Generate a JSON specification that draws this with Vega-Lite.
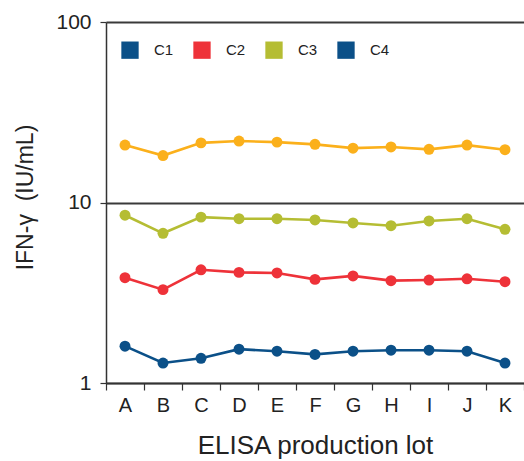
{
  "$schema": "https://vega.github.io/schema/vega-lite/v6.json",
  "width": 418,
  "height": 361,
  "autosize": "none",
  "padding": {"left": 106, "top": 22, "right": 0, "bottom": 78},
  "background": "white",
  "config": {
    "view": {"stroke": null},
    "font": "Liberation Sans",
    "axis": {"labelFont": "Liberation Sans", "titleFont": "Liberation Sans", "labelColor": "#222", "titleColor": "#222", "titleFontWeight": "normal", "domainColor": "#333", "tickColor": "#333", "domainWidth": 1.5, "tickWidth": 1.2}
  },
  "data": {
    "values": [
      {"lot": "A", "series": "C1", "value": 1.60}, {"lot": "B", "series": "C1", "value": 1.29}, {"lot": "C", "series": "C1", "value": 1.37}, {"lot": "D", "series": "C1", "value": 1.54}, {"lot": "E", "series": "C1", "value": 1.50}, {"lot": "F", "series": "C1", "value": 1.44}, {"lot": "G", "series": "C1", "value": 1.50}, {"lot": "H", "series": "C1", "value": 1.52}, {"lot": "I", "series": "C1", "value": 1.52}, {"lot": "J", "series": "C1", "value": 1.50}, {"lot": "K", "series": "C1", "value": 1.29},
      {"lot": "A", "series": "C2", "value": 3.83}, {"lot": "B", "series": "C2", "value": 3.29}, {"lot": "C", "series": "C2", "value": 4.24}, {"lot": "D", "series": "C2", "value": 4.10}, {"lot": "E", "series": "C2", "value": 4.07}, {"lot": "F", "series": "C2", "value": 3.75}, {"lot": "G", "series": "C2", "value": 3.92}, {"lot": "H", "series": "C2", "value": 3.69}, {"lot": "I", "series": "C2", "value": 3.72}, {"lot": "J", "series": "C2", "value": 3.78}, {"lot": "K", "series": "C2", "value": 3.64},
      {"lot": "A", "series": "C3", "value": 8.5}, {"lot": "B", "series": "C3", "value": 6.75}, {"lot": "C", "series": "C3", "value": 8.3}, {"lot": "D", "series": "C3", "value": 8.13}, {"lot": "E", "series": "C3", "value": 8.13}, {"lot": "F", "series": "C3", "value": 8.0}, {"lot": "G", "series": "C3", "value": 7.7}, {"lot": "H", "series": "C3", "value": 7.44}, {"lot": "I", "series": "C3", "value": 7.9}, {"lot": "J", "series": "C3", "value": 8.13}, {"lot": "K", "series": "C3", "value": 7.1},
      {"lot": "A", "series": "C4", "value": 20.8}, {"lot": "B", "series": "C4", "value": 18.2}, {"lot": "C", "series": "C4", "value": 21.4}, {"lot": "D", "series": "C4", "value": 21.9}, {"lot": "E", "series": "C4", "value": 21.6}, {"lot": "F", "series": "C4", "value": 21.0}, {"lot": "G", "series": "C4", "value": 20.0}, {"lot": "H", "series": "C4", "value": 20.3}, {"lot": "I", "series": "C4", "value": 19.7}, {"lot": "J", "series": "C4", "value": 20.8}, {"lot": "K", "series": "C4", "value": 19.6}
    ]
  },
  "encoding": {
    "x": {
      "field": "lot", "type": "nominal",
      "scale": {"type": "band", "paddingInner": 0, "paddingOuter": 0},
      "axis": {"title": "ELISA production lot", "labelAngle": 0, "labelFontSize": 20, "labelPadding": 5, "tickBand": "extent", "tickSize": 7, "titleFontSize": 26, "titlePadding": 17}
    },
    "y": {
      "field": "value", "type": "quantitative",
      "scale": {"type": "log", "domain": [1, 100]},
      "axis": {"title": "IFN-γ\u00a0 (IU/mL)", "values": [1, 10, 100], "format": "d", "labelFontSize": 21, "labelPadding": 9, "tickSize": 6, "grid": true, "gridColor": "#3a3a3a", "gridWidth": 1.8, "titleFontSize": 23, "titleX": -81, "titleY": 175, "titleAngle": -90, "titleAlign": "center", "titleBaseline": "middle"}
    }
  },
  "layer": [
    {
      "transform": [{"filter": "datum.series != 'C4'"}],
      "mark": {"type": "line", "strokeWidth": 2.6, "point": {"filled": true, "size": 120}},
      "encoding": {
        "color": {
          "field": "series", "type": "nominal",
          "scale": {"domain": ["C1", "C2", "C3", "C4"], "range": ["#0b5088", "#ee3239", "#b5bd33", "#0b5088"]},
          "legend": {"title": null, "orient": "none", "legendX": 15, "legendY": 19, "direction": "horizontal", "symbolType": "square", "symbolSize": 300, "symbolStrokeWidth": 0, "symbolOpacity": 1, "labelFontSize": 15, "labelColor": "#222", "labelOffset": 15, "columnPadding": 19, "padding": 0}
        }
      }
    },
    {
      "transform": [{"filter": "datum.series == 'C4'"}],
      "mark": {"type": "line", "strokeWidth": 2.6, "color": "#fbb01b", "point": {"filled": true, "size": 120, "color": "#fbb01b"}}
    }
  ]
}
